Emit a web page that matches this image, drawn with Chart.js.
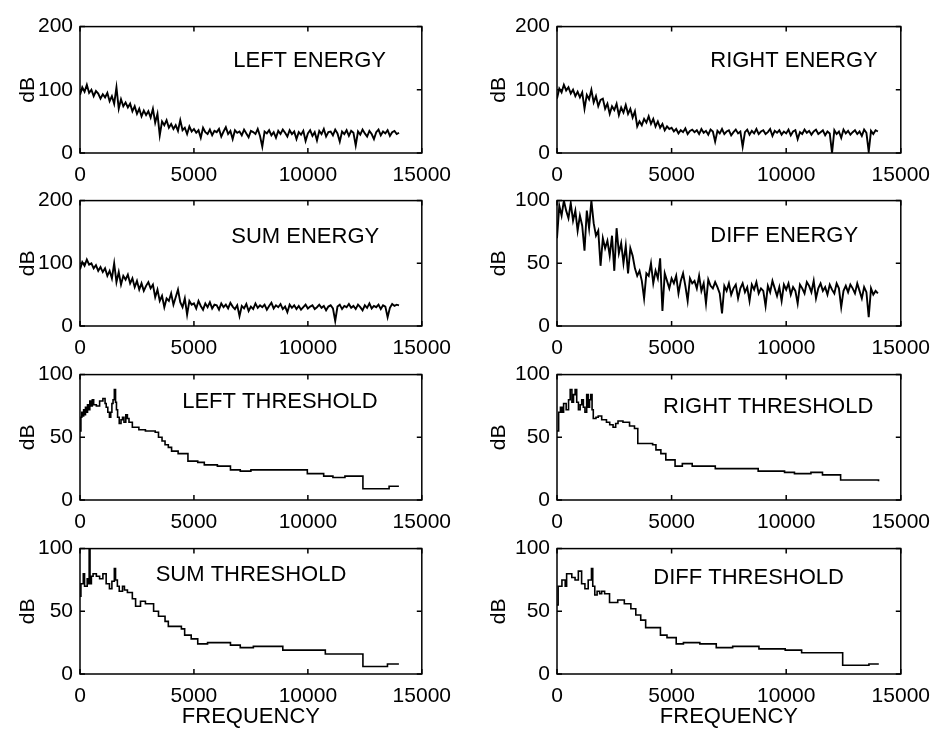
<!DOCTYPE html>
<html lang="en">
<head>
<meta charset="UTF-8" />
<title>Energy and threshold spectra</title>
<script src="https://cdn.jsdelivr.net/npm/chart.js@4.4.1/dist/chart.umd.min.js"></script>
<style>
  body { margin: 0; background: #fff; }
  #page { position: relative; width: 940px; height: 730px; overflow: hidden; }
  #page canvas { position: absolute; }
</style>
</head>
<body>
<div id="page"></div>
<script>
// frequency grid for the energy spectra (Hz)
const energyFreq = [
  0, 100, 200, 300, 400, 500, 600, 700, 800, 900,
  1000, 1100, 1200, 1300, 1400, 1500, 1600, 1700, 1800, 1900,
  2000, 2100, 2200, 2300, 2400, 2500, 2600, 2700, 2800, 2900,
  3000, 3100, 3200, 3300, 3400, 3500, 3600, 3700, 3800, 3900,
  4000, 4100, 4200, 4300, 4400, 4500, 4600, 4700, 4800, 4900,
  5000, 5100, 5200, 5300, 5400, 5500, 5600, 5700, 5800, 5900,
  6000, 6100, 6200, 6300, 6400, 6500, 6600, 6700, 6800, 6900,
  7000, 7100, 7200, 7300, 7400, 7500, 7600, 7700, 7800, 7900,
  8000, 8100, 8200, 8300, 8400, 8500, 8600, 8700, 8800, 8900,
  9000, 9100, 9200, 9300, 9400, 9500, 9600, 9700, 9800, 9900,
  10000, 10100, 10200, 10300, 10400, 10500, 10600, 10700, 10800, 10900,
  11000, 11100, 11200, 11300, 11400, 11500, 11600, 11700, 11800, 11900,
  12000, 12100, 12200, 12300, 12400, 12500, 12600, 12700, 12800, 12900,
  13000, 13100, 13200, 13300, 13400, 13500, 13600, 13700, 13800, 13900,
  14000
];

const leftEnergy = [
  92, 104, 97, 108, 95, 100, 90, 98, 94, 86,
  93, 88, 95, 82, 90, 78, 104, 70, 85, 74,
  80, 72, 78, 66, 74, 62, 70, 58, 67, 60,
  66, 56, 70, 48, 62, 28, 50, 44, 52, 40,
  46, 38, 44, 35, 52, 36, 40, 30, 42, 34,
  38, 32, 36, 24, 40, 33, 30, 37, 28, 35,
  33, 38, 26, 34, 41, 30, 35, 22, 36, 32,
  34, 28, 37, 31, 25, 35, 33, 30, 38, 27,
  10, 34, 31, 36, 28, 33, 24, 35, 30, 37,
  32, 26, 36, 30, 34, 22, 33, 29, 35, 19,
  31, 36, 27, 33, 20, 35, 30, 38, 26, 33,
  34, 28, 37, 31, 18, 34, 30, 36, 27, 35,
  32, 12, 34, 29, 37, 31, 26, 35, 30, 22,
  33, 37, 28, 34, 31, 36, 27, 33, 35, 30,
  32
];

const rightEnergy = [
  86, 102, 96, 108, 99, 104, 94, 100, 90, 97,
  88, 96, 70, 92, 85, 100, 80, 90, 74, 84,
  86, 70, 78, 62, 74, 68, 78, 60, 72, 64,
  76, 62, 70, 56, 66, 42, 50, 44, 54, 48,
  58, 46, 54, 42, 50, 40, 46, 36, 42, 38,
  40, 34, 38, 31, 36, 33, 39, 30, 35, 37,
  33, 36, 30, 38, 32, 35, 29, 37, 34, 18,
  35, 31, 38, 30, 34, 36, 28, 33, 37, 31,
  34, 10, 33, 37, 29, 35, 31, 38, 30, 34,
  36, 30, 33, 38, 27, 35, 32, 36, 29, 34,
  31, 37, 28, 34, 36, 22, 33, 30, 37, 32,
  35, 29, 34, 37, 30, 33, 36, 28, 34, 31,
  0, 36, 30, 34, 24, 37, 31, 35, 29, 33,
  36, 30, 34, 27, 37, 32, 2, 35, 30, 36,
  34
];

const sumEnergy = [
  90, 102, 96, 106, 98, 100, 92, 97, 88, 94,
  86, 92, 80, 88, 76, 100, 70, 86, 66, 80,
  74, 82, 68, 76, 62, 72, 58, 68, 56, 64,
  70, 60, 66, 46, 58, 40, 48, 30, 44, 40,
  52, 34, 46, 58, 38, 30, 44, 18, 40, 34,
  36, 28, 40, 32, 26, 36, 30, 38, 28, 34,
  33, 26, 36, 30, 34, 28, 37, 31, 27, 33,
  16, 32, 28, 35, 24, 31, 27, 36, 29, 33,
  30, 34, 26, 32, 37, 28, 33, 30, 35, 27,
  31, 22, 34, 29, 33, 27, 32, 26, 30, 34,
  28, 31, 33, 27, 30, 34, 29, 32, 25, 31,
  33, 28, 8, 31, 34, 27, 32, 30, 35, 29,
  32, 27, 34, 30, 25, 33, 29, 36, 28, 32,
  30, 34, 27, 33, 31, 14, 29, 35, 32, 34,
  33
];

const diffEnergy = [
  70, 96, 88, 100, 92, 86, 98, 84, 92, 76,
  88, 80, 60, 92, 78, 100, 82, 72, 76, 48,
  70, 62, 68, 56, 72, 44, 78, 58, 66, 50,
  64, 42, 62, 56, 46, 40, 44, 36, 22, 42,
  40, 50, 34, 44, 38, 54, 12, 42, 36, 30,
  38, 34, 40, 26, 36, 42, 32, 20, 38, 34,
  36, 30, 40, 28, 34, 18, 37, 32, 30, 35,
  31, 26, 10, 32, 28, 34, 25, 30, 33, 22,
  30, 34, 27, 31, 20, 33, 29, 35, 26, 30,
  28, 16, 32, 27, 36, 30, 24, 31, 20, 33,
  29, 34, 25, 31, 28, 18, 33, 30, 26, 35,
  32, 27, 36, 22, 30, 34, 28, 31, 25, 33,
  29, 26, 34, 30, 15, 28, 32, 27, 33, 30,
  26, 34, 28, 22, 31, 27, 7, 30, 25, 28,
  26
];

// masking thresholds: frequency where each step starts, and its level (dB)
const leftThrFreq = [0, 40, 80, 120, 160, 200, 240, 290, 330, 380, 430, 480, 540, 600, 718, 861, 1005, 1100, 1150, 1220, 1292, 1350, 1400, 1450, 1507, 1560, 1600, 1650, 1722, 1800, 1866, 1930, 2010, 2080, 2150, 2297, 2584, 2871, 3301, 3445, 3600, 3732, 3876, 4019, 4306, 4737, 5167, 5455, 6029, 6603, 7033, 7500, 9976, 10694, 11100, 11627, 12416, 13565, 13995];
const leftThrDb = [55, 66, 70, 67, 72, 68, 74, 70, 76, 72, 79, 75, 80, 76, 75, 79, 81, 77, 74, 70, 66, 70, 77, 80, 88, 78, 72, 66, 61, 64, 66, 62, 68, 65, 62, 58, 56, 55, 54, 50, 47, 44, 42, 39, 37, 31, 30, 28, 27, 24, 23, 24, 21, 19, 18, 19, 9, 11, 11];

const rightThrFreq = [0, 72, 150, 220, 288, 400, 504, 576, 650, 720, 791, 860, 935, 1010, 1079, 1150, 1220, 1295, 1360, 1420, 1468, 1530, 1583, 1700, 1799, 1950, 2158, 2300, 2446, 2560, 2662, 2878, 3165, 3381, 3525, 4173, 4317, 4532, 4748, 5151, 5468, 5899, 6906, 8777, 9928, 10360, 11079, 11583, 12374, 14029];
const rightThrDb = [55, 70, 74, 70, 77, 72, 80, 88, 78, 84, 88, 78, 72, 76, 80, 74, 70, 84, 74, 80, 84, 72, 65, 66, 67, 64, 62, 60, 58, 61, 63, 62, 59, 57, 45, 44, 40, 37, 32, 27, 29, 27, 25, 23, 22, 21, 22, 20, 16, 15];

const sumThrFreq = [0, 40, 144, 200, 316, 360, 402, 440, 500, 574, 718, 861, 1005, 1148, 1292, 1400, 1507, 1560, 1640, 1722, 1866, 1950, 2081, 2297, 2440, 2655, 2871, 3230, 3445, 3732, 3876, 4450, 4593, 4880, 5167, 5598, 6603, 7033, 7608, 8900, 10766, 12416, 13493, 13995];
const sumThrDb = [62, 72, 80, 70, 76, 72, 100, 72, 78, 80, 78, 76, 80, 72, 68, 74, 84, 75, 70, 66, 70, 67, 65, 60, 54, 58, 56, 50, 46, 42, 38, 36, 31, 28, 24, 25, 23, 21, 22, 19, 16, 6, 8, 8];

const diffThrFreq = [0, 50, 215, 358, 420, 645, 788, 931, 1074, 1218, 1361, 1504, 1560, 1648, 1750, 1862, 1950, 2077, 2292, 2650, 2937, 3223, 3438, 3653, 3868, 4513, 4799, 5201, 5516, 6232, 6948, 7665, 8811, 9957, 10673, 12464, 13610, 14040];
const diffThrDb = [55, 70, 75, 70, 80, 77, 75, 82, 72, 68, 75, 84, 70, 63, 66, 64, 66, 64, 57, 59, 56, 52, 47, 43, 37, 31, 29, 24, 25, 24, 21, 22, 20, 19, 17, 7, 8, 8];

const FONT = "'Liberation Sans', Arial, Helvetica, sans-serif";

const panels = [
  { title: "LEFT ENERGY", tx: 6724, ty: 145, yMax: 200, yStep: 100, col: 0, row: 0, freq: energyFreq, db: leftEnergy, stepped: false },
  { title: "RIGHT ENERGY", tx: 6686, ty: 145, yMax: 200, yStep: 100, col: 1, row: 0, freq: energyFreq, db: rightEnergy, stepped: false },
  { title: "SUM ENERGY", tx: 6638, ty: 142, yMax: 200, yStep: 100, col: 0, row: 1, freq: energyFreq, db: sumEnergy, stepped: false },
  { title: "DIFF ENERGY", tx: 6686, ty: 72, yMax: 100, yStep: 50, col: 1, row: 1, freq: energyFreq, db: diffEnergy, stepped: false },
  { title: "LEFT THRESHOLD", tx: 4483, ty: 78, yMax: 100, yStep: 50, col: 0, row: 2, freq: leftThrFreq, db: leftThrDb, stepped: true },
  { title: "RIGHT THRESHOLD", tx: 4628, ty: 74, yMax: 100, yStep: 50, col: 1, row: 2, freq: rightThrFreq, db: rightThrDb, stepped: true },
  { title: "SUM THRESHOLD", tx: 3319, ty: 79, yMax: 100, yStep: 50, col: 0, row: 3, freq: sumThrFreq, db: sumThrDb, stepped: true },
  { title: "DIFF THRESHOLD", tx: 4200, ty: 77, yMax: 100, yStep: 50, col: 1, row: 3, freq: diffThrFreq, db: diffThrDb, stepped: true }
];

// plot-area geometry of the grid
const colLeft = [80, 557], colRight = [428, 907];
const rowTop = [21, 195, 369, 543], rowBottom = [153, 326, 500, 674];
const Y_AXIS_W = 80, PAD_TOP = 14, PAD_RIGHT = 33;

// box with inward ticks on all four sides + the panel label
const frame = {
  id: "frame",
  afterDatasetsDraw(chart, args, opts) {
    const { ctx, chartArea: a, scales: { x, y } } = chart;
    ctx.save();
    ctx.strokeStyle = "#000";
    ctx.lineWidth = 1.5;
    ctx.strokeRect(a.left, a.top, a.width, a.height);
    ctx.beginPath();
    x.ticks.forEach(t => {
      const px = x.getPixelForValue(t.value);
      ctx.moveTo(px, a.bottom); ctx.lineTo(px, a.bottom - 5);
      ctx.moveTo(px, a.top); ctx.lineTo(px, a.top + 5);
    });
    y.ticks.forEach(t => {
      const py = y.getPixelForValue(t.value);
      ctx.moveTo(a.left, py); ctx.lineTo(a.left + 5, py);
      ctx.moveTo(a.right, py); ctx.lineTo(a.right - 5, py);
    });
    ctx.stroke();
    ctx.fillStyle = "#000";
    ctx.font = "22px " + FONT;
    ctx.textAlign = "left";
    ctx.textBaseline = "middle";
    ctx.fillText(opts.text, x.getPixelForValue(opts.x), y.getPixelForValue(opts.y));
    ctx.restore();
  }
};

const page = document.getElementById("page");

panels.forEach(p => {
  const bottomRow = p.row === 3;
  const xAxisH = bottomRow ? 56 : 38;
  const plotL = colLeft[p.col], plotR = colRight[p.col];
  const plotT = rowTop[p.row], plotB = rowBottom[p.row];
  const canvas = document.createElement("canvas");
  const left = plotL - Y_AXIS_W, top = plotT - PAD_TOP;
  canvas.width = plotR - left + PAD_RIGHT;
  canvas.height = plotB - top + xAxisH;
  canvas.style.left = left + "px";
  canvas.style.top = top + "px";
  page.appendChild(canvas);

  const points = p.freq.map((f, i) => ({ x: f, y: p.db[i] }));

  new Chart(canvas, {
    type: "line",
    data: {
      datasets: [{
        data: points,
        borderColor: "#000",
        borderWidth: p.stepped ? 1.6 : 1.9,
        pointRadius: 0,
        tension: 0,
        fill: false,
        stepped: p.stepped
      }]
    },
    options: {
      responsive: false,
      animation: false,
      layout: { padding: { top: PAD_TOP, right: PAD_RIGHT, left: 0, bottom: 0 } },
      plugins: {
        legend: { display: false },
        tooltip: { enabled: false },
        frame: { text: p.title, x: p.tx, y: p.ty }
      },
      scales: {
        x: {
          type: "linear",
          min: 0,
          max: 15000,
          grid: { display: false, drawTicks: false },
          border: { display: false },
          ticks: {
            stepSize: 5000,
            autoSkip: false,
            maxRotation: 0,
            padding: 10,
            color: "#000",
            font: { family: FONT, size: 21 },
            callback: v => String(v)
          },
          title: {
            display: bottomRow,
            text: "FREQUENCY",
            color: "#000",
            font: { family: FONT, size: 22 },
            padding: { top: 0, bottom: 0 }
          },
          afterFit: s => { s.height = xAxisH; }
        },
        y: {
          min: 0,
          max: p.yMax,
          grid: { display: false, drawTicks: false },
          border: { display: false },
          ticks: {
            stepSize: p.yStep,
            padding: 7,
            color: "#000",
            font: { family: FONT, size: 21 },
            callback: v => String(v)
          },
          title: {
            display: true,
            text: "dB",
            color: "#000",
            font: { family: FONT, size: 21 },
            padding: { top: p.col === 0 ? 16 : 10, bottom: 0 }
          },
          afterFit: s => { s.width = Y_AXIS_W; }
        }
      }
    },
    plugins: [frame]
  });
});
</script>
</body>
</html>
